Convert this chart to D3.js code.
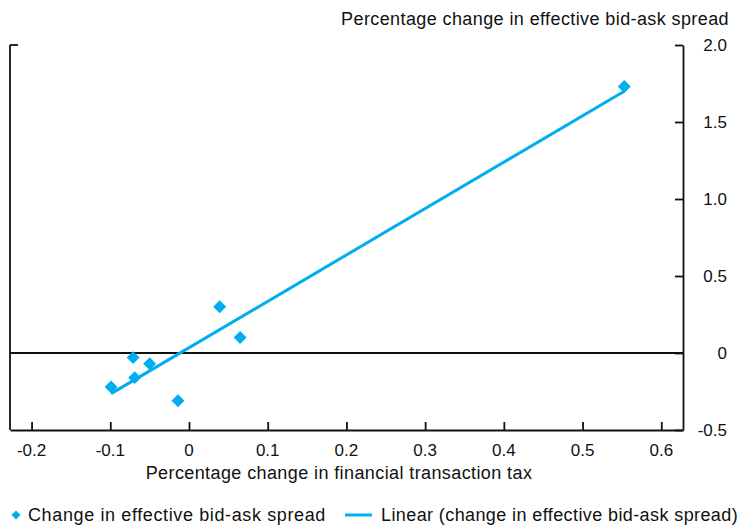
<!DOCTYPE html>
<html>
<head>
<meta charset="utf-8">
<script src="https://cdn.jsdelivr.net/npm/d3@7"></script>
<style>
  body { margin: 0; background: #fff; }
  text { font-family: "Liberation Sans", Arial, sans-serif; fill: #111; }
</style>
</head>
<body>
<script>
// data
var taxChange = [0.553, 0.039, 0.065, -0.071, -0.050, -0.069, -0.099, -0.014];
var spreadChange = [1.73, 0.30, 0.10, -0.03, -0.07, -0.16, -0.22, -0.31];
var xTicks = [-0.2, -0.1, 0, 0.1, 0.2, 0.3, 0.4, 0.5, 0.6];
var xTickLabels = ["-0.2", "-0.1", "0", "0.1", "0.2", "0.3", "0.4", "0.5", "0.6"];
var yTicks = [-0.5, 0, 0.5, 1.0, 1.5, 2.0];
var yTickLabels = ["-0.5", "0", "0.5", "1.0", "1.5", "2.0"];

var W = 747, H = 525;
var plotL = 10, plotR = 683, plotT = 45, plotB = 430;
var blue = "#00aeef";

var svg = d3.select("body").append("svg")
  .attr("width", W)
  .attr("height", H);

var x = d3.scaleLinear().domain([-0.2274, 0.6276]).range([plotL, plotR]);
var y = d3.scaleLinear().domain([-0.5, 2.0]).range([plotB, plotT]);

// y axis on the right, ticks pointing in
var yAxis = svg.append("g")
  .attr("transform", "translate(" + plotR + ",0)")
  .call(d3.axisLeft(y).tickValues(yTicks).tickSize(8).tickSizeOuter(0).tickFormat(""));
yAxis.selectAll("text").remove();
yAxis.selectAll("line, path").attr("stroke", "#111").attr("stroke-width", 1.8);

svg.append("g").selectAll("text")
  .data(yTicks)
  .join("text")
  .attr("x", 727)
  .attr("y", d => y(d) + 6)
  .attr("text-anchor", "end")
  .attr("font-size", 17)
  .text((d, i) => yTickLabels[i]);

// left frame line with a stub at the top
svg.append("line")
  .attr("x1", plotL).attr("x2", plotL)
  .attr("y1", plotT).attr("y2", plotB)
  .attr("stroke", "#111").attr("stroke-width", 1.8);
svg.append("line")
  .attr("x1", plotL).attr("x2", plotL + 8)
  .attr("y1", y(2.0)).attr("y2", y(2.0))
  .attr("stroke", "#111").attr("stroke-width", 1.8);

// x axis at the bottom, ticks pointing up
var xAxis = svg.append("g")
  .attr("transform", "translate(0," + plotB + ")")
  .call(d3.axisTop(x).tickValues(xTicks).tickSize(8).tickSizeOuter(0).tickFormat(""));
xAxis.selectAll("text").remove();
xAxis.selectAll("line, path").attr("stroke", "#111").attr("stroke-width", 1.8);

svg.append("g").selectAll("text")
  .data(xTicks)
  .join("text")
  .attr("x", d => x(d))
  .attr("y", 456)
  .attr("text-anchor", "middle")
  .attr("font-size", 17)
  .text((d, i) => xTickLabels[i]);

// zero line
svg.append("line")
  .attr("x1", plotL).attr("x2", plotR)
  .attr("y1", y(0)).attr("y2", y(0))
  .attr("stroke", "#111").attr("stroke-width", 1.8);

// axis titles
svg.append("text")
  .attr("x", 729).attr("y", 25)
  .attr("text-anchor", "end")
  .attr("font-size", 18)
  .attr("letter-spacing", 0.4)
  .text("Percentage change in effective bid-ask spread");

svg.append("text")
  .attr("x", 339).attr("y", 479)
  .attr("text-anchor", "middle")
  .attr("font-size", 18)
  .attr("letter-spacing", 0.4)
  .text("Percentage change in financial transaction tax");

// least squares trend line
var pts = taxChange.map((d, i) => [d, spreadChange[i]]);
var mx = d3.mean(taxChange), my = d3.mean(spreadChange);
var sxy = d3.sum(pts, p => (p[0] - mx) * (p[1] - my));
var sxx = d3.sum(pts, p => (p[0] - mx) * (p[0] - mx));
var slope = sxy / sxx, icpt = my - slope * mx;
var ext = d3.extent(taxChange);

svg.append("path")
  .datum(ext.map(v => [v, icpt + slope * v]))
  .attr("d", d3.line().x(d => x(d[0])).y(d => y(d[1])))
  .attr("stroke", blue)
  .attr("stroke-width", 3)
  .attr("fill", "none");

// diamonds
var diamond = d3.symbol().type(d3.symbolSquare).size(84);
svg.append("g").selectAll("path")
  .data(pts)
  .join("path")
  .attr("d", diamond)
  .attr("transform", d => "translate(" + x(d[0]) + "," + y(d[1]) + ") rotate(45)")
  .attr("fill", blue);

// legend
var lg = svg.append("g");
lg.append("path")
  .attr("d", d3.symbol().type(d3.symbolSquare).size(40))
  .attr("transform", "translate(16,515) rotate(45)")
  .attr("fill", blue);
lg.append("text")
  .attr("x", 28).attr("y", 521)
  .attr("font-size", 18)
  .attr("letter-spacing", 0.62)
  .text("Change in effective bid-ask spread");
lg.append("line")
  .attr("x1", 345).attr("x2", 372)
  .attr("y1", 515).attr("y2", 515)
  .attr("stroke", blue).attr("stroke-width", 3);
lg.append("text")
  .attr("x", 381).attr("y", 521)
  .attr("font-size", 18)
  .attr("letter-spacing", 0.4)
  .text("Linear (change in effective bid-ask spread)");
</script>
</body>
</html>
